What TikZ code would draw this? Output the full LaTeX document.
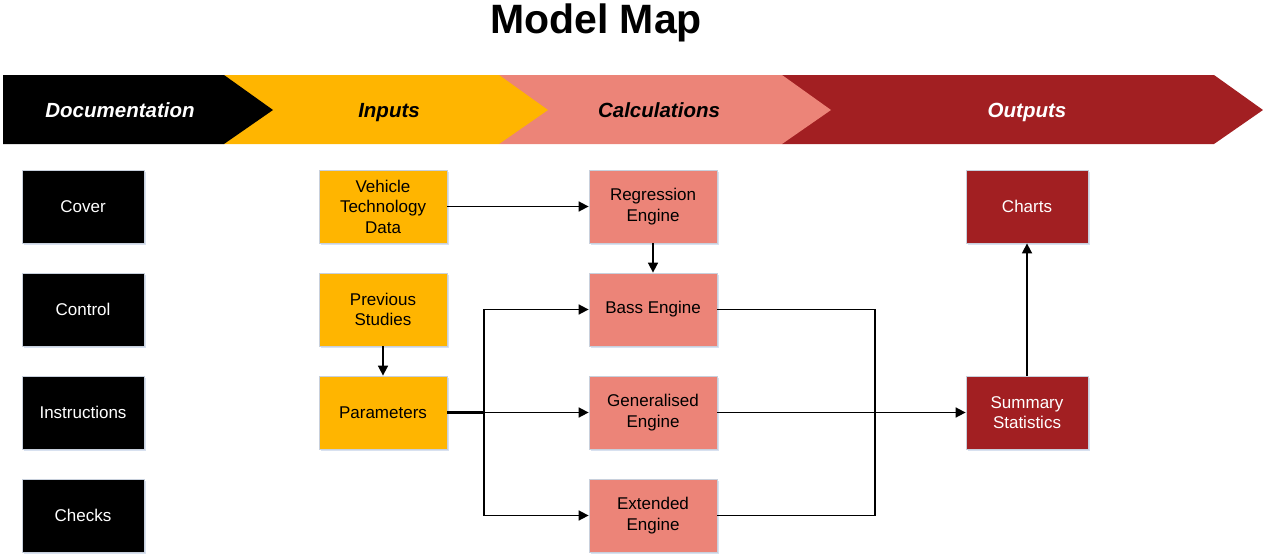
\documentclass[tikz,border=0pt]{standalone}
\usepackage{fontspec}
\setmainfont{Liberation Sans}
\usetikzlibrary{arrows.meta,shadows}
\definecolor{cyel}{RGB}{255,181,0}
\definecolor{csal}{RGB}{236,132,120}
\definecolor{cred}{RGB}{162,31,34}
\definecolor{cedge}{RGB}{200,208,220}
\definecolor{cshadow}{RGB}{190,205,230}
\tikzset{
  bx/.style={draw=cedge, line width=0.8pt, minimum width=128pt, minimum height=73pt,
    align=center, inner sep=2pt, font=\fontsize{17}{20.5}\selectfont,
    drop shadow={shadow xshift=1.5pt, shadow yshift=-2pt, fill=cshadow, opacity=0.6}},
  docbx/.style={bx, fill=black, text=white, minimum width=122pt},
  inbx/.style={bx, fill=cyel, text=black},
  calcbx/.style={bx, fill=csal, text=black},
  outbx/.style={bx, fill=cred, text=white, minimum width=122pt},
  hdr/.style={font=\fontsize{20.5}{24}\selectfont\bfseries\itshape, inner sep=0pt,
    text height=15pt, text depth=4pt},
  arr/.style={line width=1.7pt, -{Triangle[length=10pt,width=10pt]}},
  ln/.style={line width=1.7pt},
}
\begin{document}
\begin{tikzpicture}[x=1pt,y=-1pt]
\useasboundingbox (0,0) rectangle (1263,554);
% title
\node[font=\fontsize{41}{45}\selectfont\bfseries, inner sep=0pt] (title) at (596,23) {Model Map};
% chevrons (right to left)
\fill[cred] (782,75) -- (1214,75) -- (1263,110) -- (1214,144) -- (782,144) -- cycle;
\fill[csal] (499,75) -- (782,75) -- (831,110) -- (782,144) -- (499,144) -- cycle;
\fill[cyel] (224,75) -- (499,75) -- (548,110) -- (499,144) -- (224,144) -- cycle;
\fill[black] (3,75) -- (224,75) -- (273,110) -- (224,144) -- (3,144) -- cycle;
\node[hdr, text=white] (hdoc) at (120,112) {Documentation};
\node[hdr, text=black] (hin) at (389,112) {Inputs};
\node[hdr, text=black] (hcalc) at (659,112) {Calculations};
\node[hdr, text=white] (hout) at (1027,112) {Outputs};
% documentation
\node[docbx] (cover) at (83,206.5) {Cover};
\node[docbx] (control) at (83,309.5) {Control};
\node[docbx] (instr) at (83,412.5) {Instructions};
\node[docbx] (checks) at (83,515.5) {Checks};
% inputs
\node[inbx] (vtd) at (383,206.5) {Vehicle\\Technology\\Data};
\node[inbx] (prev) at (383,309.5) {Previous\\Studies};
\node[inbx] (param) at (383,412.5) {Parameters};
% calculations
\node[calcbx] (regr) at (653,206.5) {Regression\\Engine};
\node[calcbx] (bass) at (653,309.5) {Bass Engine};
\node[calcbx] (gen) at (653,412.5) {Generalised\\Engine};
\node[calcbx] (ext) at (653,515.5) {Extended\\Engine};
% outputs
\node[outbx] (charts) at (1027,206.5) {Charts};
\node[outbx] (summ) at (1027,412.5) {Summary\\Statistics};
% junctions
\coordinate (jl) at (484,412.5);
\coordinate (jr) at (875,412.5);
% connectors
\draw[arr] (vtd.east) -- (regr.west);
\draw[arr] (regr.south) -- (bass.north);
\draw[arr] (prev.south) -- (param.north);
\draw[ln, line width=2.8pt] (param.east) -- (jl);
\draw[arr] (jl) |- (bass.west);
\draw[arr] (jl) -- (gen.west);
\draw[arr] (jl) |- (ext.west);
\draw[ln] (bass.east) -| (jr);
\draw[ln] (ext.east) -| (jr);
\draw[ln] (gen.east) -- (jr);
\draw[arr] (jr) -- (summ.west);
\draw[arr] (summ.north) -- (charts.south);
\end{tikzpicture}
\end{document}
